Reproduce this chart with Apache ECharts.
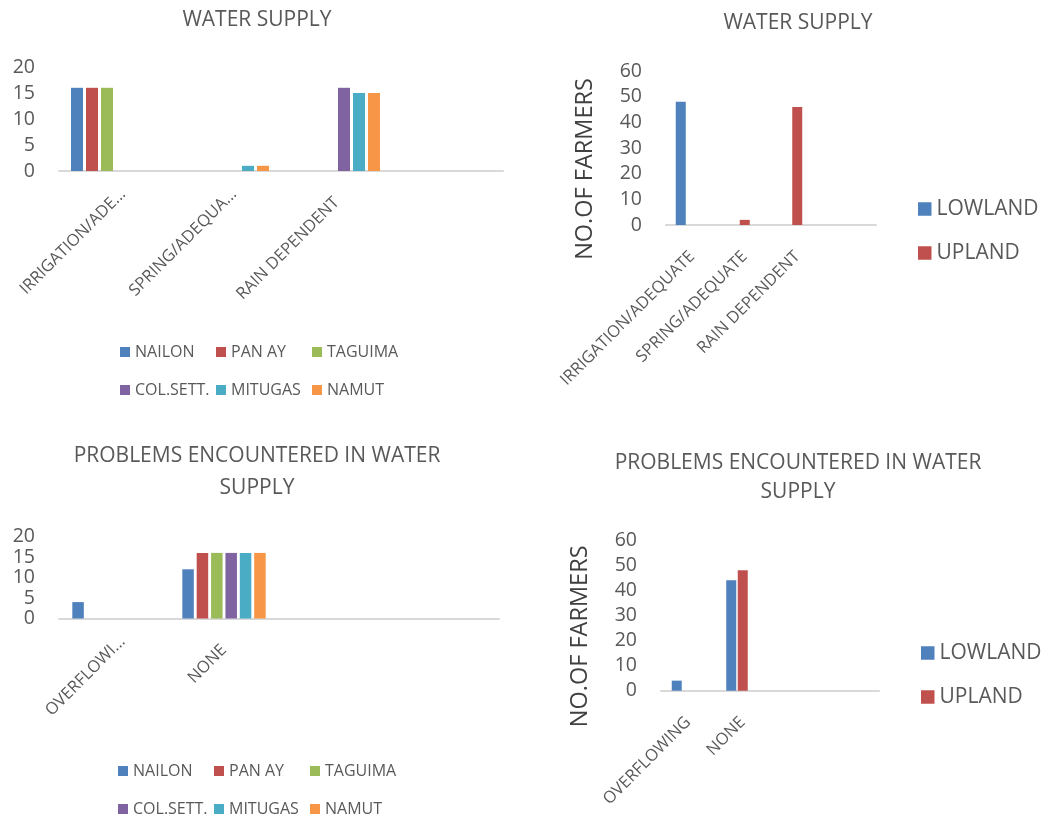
<!DOCTYPE html>
<html>
<head>
<meta charset="utf-8">
<script src="https://cdn.jsdelivr.net/npm/echarts@6/dist/echarts.min.js"></script>
<style>
  html, body { margin: 0; padding: 0; background: #ffffff; }
  #chart { width: 1042px; height: 818px; }
</style>
</head>
<body>
<div id="chart"></div>
<script>
// ---- categories ----
const supplyCategories = ['IRRIGATION/ADE...', 'SPRING/ADEQUA...', 'RAIN DEPENDENT', ''];
const supplyCategoriesFull = ['IRRIGATION/ADEQUATE', 'SPRING/ADEQUATE', 'RAIN DEPENDENT', ''];
const problemCategories = ['OVERFLOWI...', 'NONE', '', ''];
const problemCategoriesFull = ['OVERFLOWING', 'NONE', '', ''];

// ---- series names ----
const barangays = ['NAILON', 'PAN AY', 'TAGUIMA', 'COL.SETT.', 'MITUGAS', 'NAMUT'];
const elevations = ['LOWLAND', 'UPLAND'];

// ---- water supply, farmers per barangay ----
const supplyNailon  = [16, null, null, null];
const supplyPanAy   = [16, null, null, null];
const supplyTaguima = [16, null, null, null];
const supplyColSett = [null, null, 16, null];
const supplyMitugas = [null, 1, 15, null];
const supplyNamut   = [null, 1, 15, null];

// ---- problems in water supply, farmers per barangay ----
const problemNailon  = [4, 12, null, null];
const problemPanAy   = [null, 16, null, null];
const problemTaguima = [null, 16, null, null];
const problemColSett = [null, 16, null, null];
const problemMitugas = [null, 16, null, null];
const problemNamut   = [null, 16, null, null];

// ---- farmers by elevation ----
const supplyLowland  = [48, null, null, null];
const supplyUpland   = [null, 2, 46, null];
const problemLowland = [4, 44, null, null];
const problemUpland  = [null, 48, null, null];
const emptySlot      = [null, null, null, null];

// ---- value axes ----
const barangayAxisMax = 20, barangayAxisStep = 5;
const farmerAxisMax = 60, farmerAxisStep = 10;

const barangayColors = ['#4f81bd', '#c0504d', '#9bbb59', '#8064a2', '#4bacc6', '#f79646'];
const elevationColors = ['#4f81bd', '#c0504d'];

const FONT = '"Open Sans", "Noto Sans", sans-serif';
const TEXT = '#595959';
const AXIS = '#d9d9d9';

const grids = [
  { left: 59,  top: 67,    width: 444, height: 104 },
  { left: 666, top: 71,    width: 210, height: 154 },
  { left: 59,  top: 536.5, width: 440, height: 82 },
  { left: 661, top: 540,   width: 218, height: 150.7 }
];

// Shortened rotated labels sit a little further up their slope
function categoryItems(labels) {
  return labels.map(v => v.endsWith('...')
    ? { value: v, textStyle: { padding: [0, -12, 0, 0] } }
    : { value: v, textStyle: { padding: [0, 0, 0, 0] } });
}

function categoryAxis(gridIndex, labels) {
  return {
    type: 'category', gridIndex, data: categoryItems(labels),
    axisLine: { lineStyle: { color: AXIS, width: 2 } },
    axisTick: { show: false },
    axisLabel: {
      interval: 0, rotate: 45, margin: 29,
      color: TEXT, fontFamily: FONT, fontSize: 16.5
    }
  };
}

function valueAxis(gridIndex, max, step, name) {
  const ax = {
    type: 'value', gridIndex, min: 0, max, interval: step,
    axisLine: { show: false }, axisTick: { show: false },
    splitLine: { show: false },
    axisLabel: { margin: 24, color: TEXT, fontFamily: FONT, fontSize: 19.5 }
  };
  if (name) {
    Object.assign(ax, {
      name, nameLocation: 'middle', nameGap: 69,
      nameTextStyle: { color: '#404040', fontFamily: FONT, fontSize: 23.5, padding: [0, 42, 0, 0] }
    });
  }
  return ax;
}

function bar(name, data, color, idx, width, gap) {
  return {
    type: 'bar', name, data, xAxisIndex: idx, yAxisIndex: idx,
    barWidth: width, barGap: gap,
    itemStyle: { color },
    emphasis: { disabled: true }
  };
}

const supplyBarangaySeries = [supplyNailon, supplyPanAy, supplyTaguima, supplyColSett, supplyMitugas, supplyNamut];
const problemBarangaySeries = [problemNailon, problemPanAy, problemTaguima, problemColSett, problemMitugas, problemNamut];

const series = [];
supplyBarangaySeries.forEach((d, i) => series.push(bar(barangays[i], d, barangayColors[i], 0, 12, '25%')));
series.push(bar(elevations[0], supplyLowland, elevationColors[0], 1, 10, '15%'));
series.push(bar(elevations[1], supplyUpland, elevationColors[1], 1, 10, '15%'));
series.push(bar('', emptySlot, '#ffffff', 1, 10, '15%'));
problemBarangaySeries.forEach((d, i) => series.push(bar(barangays[i], d, barangayColors[i], 2, 11.5, '25%')));
series.push(bar(elevations[0], problemLowland, elevationColors[0], 3, 10, '15%'));
series.push(bar(elevations[1], problemUpland, elevationColors[1], 3, 10, '15%'));
series.push(bar('', emptySlot, '#ffffff', 3, 10, '15%'));

// One legend box per entry, laid out in fixed columns
const legends = [];
function legendItem(name, x, yCenter, size, fontSize) {
  const lh = Math.round(fontSize * 1.25);
  legends.push({
    data: [name], left: x, top: yCenter - lh / 2, padding: 0,
    icon: 'rect', itemWidth: size, itemHeight: size, itemGap: 0,
    selectedMode: false,
    textStyle: { color: TEXT, fontFamily: FONT, fontSize, lineHeight: lh, padding: [0, 0, 0, 0] }
  });
}
barangays.forEach((n, i) => legendItem(n, 120 + (i % 3) * 96, i < 3 ? 352 : 390, 10, 16));
barangays.forEach((n, i) => legendItem(n, 118 + (i % 3) * 96, i < 3 ? 771 : 809, 10, 16));
elevations.forEach((n, i) => legendItem(n, 918, 209 + i * 44, 13.5, 21));
elevations.forEach((n, i) => legendItem(n, 921, 653 + i * 44, 13.5, 21));

function titleAt(text, x, yTop, lineHeight) {
  return {
    text, left: x, top: yTop, textAlign: 'center', padding: 0,
    textStyle: { color: TEXT, fontFamily: FONT, fontSize: 21, fontWeight: 'normal', lineHeight }
  };
}

const option = {
  animation: false,
  backgroundColor: '#ffffff',
  title: [
    titleAt('WATER SUPPLY', 257, 4, 32),
    titleAt('WATER SUPPLY', 798, 7, 32),
    titleAt('PROBLEMS ENCOUNTERED IN WATER\nSUPPLY', 257, 440, 32),
    titleAt('PROBLEMS ENCOUNTERED IN WATER\nSUPPLY', 798, 449, 29)
  ],
  legend: legends,
  grid: grids,
  xAxis: [
    categoryAxis(0, supplyCategories),
    categoryAxis(1, supplyCategoriesFull),
    categoryAxis(2, problemCategories),
    categoryAxis(3, problemCategoriesFull)
  ],
  yAxis: [
    valueAxis(0, barangayAxisMax, barangayAxisStep),
    valueAxis(1, farmerAxisMax, farmerAxisStep, 'NO.OF FARMERS'),
    valueAxis(2, barangayAxisMax, barangayAxisStep),
    valueAxis(3, farmerAxisMax, farmerAxisStep, 'NO.OF FARMERS')
  ],
  series
};

echarts.init(document.getElementById('chart'), null, { renderer: 'canvas' }).setOption(option);
</script>
</body>
</html>
